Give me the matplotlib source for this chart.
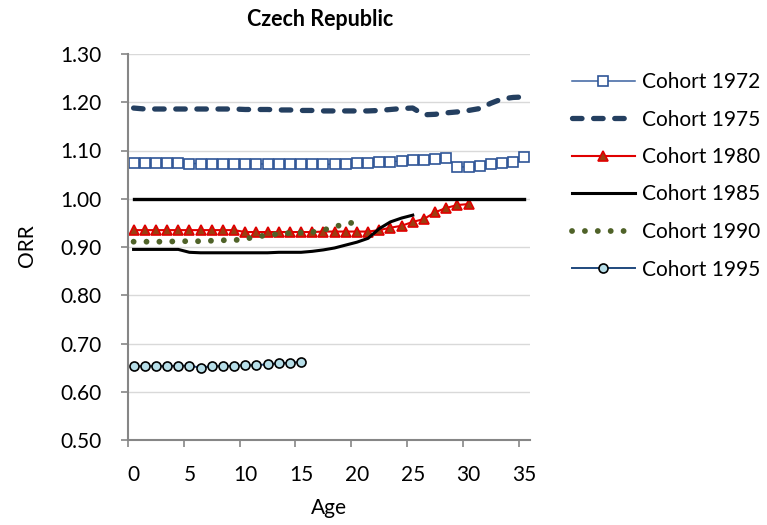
import numpy as np
import matplotlib.pyplot as plt

plt.rcParams['font.family'] = ['Lato', 'DejaVu Sans']

# ---- data ----
ages_1972 = list(range(36))
orr_1972 = [1.075, 1.074, 1.074, 1.074, 1.074, 1.073, 1.073, 1.073, 1.073, 1.073,
            1.072, 1.072, 1.072, 1.072, 1.071, 1.071, 1.071, 1.071, 1.072, 1.073,
            1.074, 1.075, 1.076, 1.077, 1.078, 1.080, 1.081, 1.082, 1.084, 1.066,
            1.066, 1.068, 1.071, 1.074, 1.077, 1.087]

ages_1975 = list(range(36))
orr_1975 = [1.188, 1.186, 1.186, 1.186, 1.186, 1.186, 1.186, 1.186, 1.186, 1.186,
            1.185, 1.185, 1.185, 1.184, 1.184, 1.183, 1.183, 1.182, 1.182, 1.182,
            1.182, 1.182, 1.183, 1.185, 1.187, 1.188, 1.174, 1.175, 1.178, 1.180,
            1.183, 1.187, 1.198, 1.207, 1.210, 1.211]

ages_1980 = list(range(31))
orr_1980 = [0.935, 0.935, 0.935, 0.935, 0.935, 0.935, 0.935, 0.935, 0.935, 0.935,
            0.931, 0.931, 0.931, 0.931, 0.931, 0.931, 0.931, 0.932, 0.932, 0.932,
            0.932, 0.932, 0.935, 0.940, 0.944, 0.952, 0.958, 0.972, 0.981, 0.987,
            0.989]

ages_1985 = list(range(26))
orr_1985 = [0.895, 0.895, 0.895, 0.895, 0.895, 0.889, 0.888, 0.888, 0.888, 0.888,
            0.888, 0.888, 0.888, 0.889, 0.889, 0.889, 0.891, 0.894, 0.898, 0.904,
            0.910, 0.918, 0.938, 0.952, 0.960, 0.966]

ages_1990 = list(range(21))
orr_1990 = [0.911, 0.911, 0.911, 0.911, 0.912, 0.912, 0.912, 0.913, 0.914, 0.914,
            0.917, 0.921, 0.925, 0.927, 0.929, 0.930, 0.931, 0.935, 0.942, 0.948,
            0.952]

ages_1995 = list(range(16))
orr_1995 = [0.653, 0.653, 0.653, 0.653, 0.654, 0.654, 0.650, 0.653, 0.653, 0.654,
            0.655, 0.655, 0.657, 0.659, 0.660, 0.662]

ages_ref = list(range(36))
orr_ref = [1.00] * 36

# ---- figure ----
W, H = 767, 525
fig = plt.figure(figsize=(W / 100, H / 100), dpi=100)
ax = fig.add_axes([128 / W, 1 - 440 / H, (530 - 128) / W, (440 - 54) / H])

ax.plot(ages_1972, orr_1972, color='#3A62A0', lw=1.1, marker='s', ms=6.5,
        mfc='white', mec='#2F5597', mew=1.2, label='Cohort 1972')
ax.plot(ages_1975, orr_1975, color='#243F60', lw=3.8, linestyle=(0, (1.8, 2.2)),
        dash_capstyle='round', label='Cohort 1975')
ax.plot(ages_1980, orr_1980, color='#E00000', lw=1.5, marker='^', ms=7,
        mfc='#9C3D10', mec='#E00000', mew=1.2, label='Cohort 1980')
ax.plot(ages_ref, orr_ref, color='black', lw=2.4)
ax.plot(ages_1985, orr_1985, color='black', lw=2.2, label='Cohort 1985')
ax.plot(ages_1990, orr_1990, color='#4F6228', lw=4.2, linestyle=(0, (0.01, 2.2)),
        dash_capstyle='round', label='Cohort 1990')
ax.plot(ages_1995, orr_1995, color='#1F497D', lw=1.4, marker='o', ms=6.5,
        mfc='#B7DEE8', mec='black', mew=1.2, label='Cohort 1995')

# category style axis: labels on categories, ticks between
ax.set_xlim(-0.5, 35.5)
ax.set_ylim(0.5, 1.3)
ax.set_xticks([0, 5, 10, 15, 20, 25, 30, 35])
ax.set_xticks([-0.5, 4.5, 9.5, 14.5, 19.5, 24.5, 29.5, 34.5], minor=True)
ax.tick_params(axis='x', which='major', length=0, pad=18, labelsize=15)
ax.tick_params(axis='x', which='minor', length=5, width=1.2, color='#868686')
ax.set_yticks([0.5, 0.6, 0.7, 0.8, 0.9, 1.0, 1.1, 1.2, 1.3])
ax.set_yticklabels(['%.2f' % v for v in ax.get_yticks()])
ax.tick_params(axis='y', length=5, width=1.2, color='#868686', pad=14, labelsize=15)

ax.yaxis.grid(True, color='#D9D9D9', lw=1)
ax.set_axisbelow(True)
for s in ['top', 'right']:
    ax.spines[s].set_visible(False)
for s in ['left', 'bottom']:
    ax.spines[s].set_color('#868686')
    ax.spines[s].set_linewidth(1.5)

fig.text(320 / W, 1 - 19 / H, 'Czech Republic', ha='center', va='center',
         fontsize=15.5, fontweight='bold')
fig.text(27 / W, 1 - 246 / H, 'ORR', ha='center', va='center', rotation=90, fontsize=15)
fig.text(329 / W, 1 - 508 / H, 'Age', ha='center', va='center', fontsize=15)

ax.legend(loc='upper left', bbox_to_anchor=(572 / W, 1 - 72 / H),
          bbox_transform=fig.transFigure, frameon=False, fontsize=15,
          handlelength=3.0, handletextpad=0.35, labelspacing=0.84,
          borderaxespad=0, borderpad=0)

fig.savefig('out.png', dpi=100)
